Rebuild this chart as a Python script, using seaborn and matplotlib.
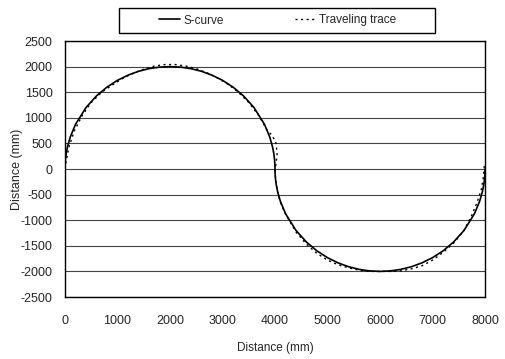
import matplotlib
matplotlib.use("Agg")
import matplotlib.pyplot as plt
from matplotlib.patches import Rectangle
import seaborn as sns
import pandas as pd

# S-curve
s_x = [0, 2, 10, 25, 50, 100, 200, 400, 600, 800, 1000, 1200, 1400, 1600, 1800, 2000,
       2200, 2400, 2600, 2800, 3000, 3200, 3400, 3600, 3800, 3900, 3950, 3975, 3990, 3998, 4000,
       4002, 4010, 4025, 4050, 4100, 4200, 4400, 4600, 4800, 5000, 5200, 5400, 5600, 5800, 6000,
       6200, 6400, 6600, 6800, 7000, 7200, 7400, 7600, 7800, 7900, 7950, 7975, 7990, 7998, 8000]
s_y = [0, 89, 200, 315, 444, 624, 872, 1200, 1428, 1600, 1732, 1833, 1908, 1960, 1990, 2000,
       1990, 1960, 1908, 1833, 1732, 1600, 1428, 1200, 872, 624, 444, 315, 200, 89, 0,
       -89, -200, -315, -444, -624, -872, -1200, -1428, -1600, -1732, -1833, -1908, -1960, -1990, -2000,
       -1990, -1960, -1908, -1833, -1732, -1600, -1428, -1200, -872, -624, -444, -315, -200, -89, 0]

# Traveling trace
t_x = [0, 30, 80, 180, 330, 500, 700, 900, 1100, 1300, 1500, 1700, 1900, 2100,
       2300, 2500, 2700, 2900, 3100, 3300, 3500, 3700, 3850, 3950, 4020, 4040,
       4020, 4000, 4010, 4050, 4100, 4200, 4400, 4600, 4800, 5000, 5200, 5400,
       5600, 5800, 6000, 6200, 6400, 6600, 6800, 7000, 7200, 7400, 7600, 7750,
       7850, 7930, 7970, 7990]
t_y = [0, 200, 450, 750, 1050, 1300, 1500, 1640, 1770, 1870, 1950, 2010, 2040, 2040,
       2010, 1960, 1880, 1780, 1660, 1500, 1300, 1030, 760, 650, 500, 300,
       100, 0, -200, -450, -650, -880, -1230, -1470, -1650, -1780, -1870, -1930,
       -1975, -2000, -2000, -2000, -1990, -1950, -1890, -1780, -1630, -1450, -1200, -900,
       -650, -400, -150, 100]

x_ticks = [0, 1000, 2000, 3000, 4000, 5000, 6000, 7000, 8000]
y_ticks = [-2500, -2000, -1500, -1000, -500, 0, 500, 1000, 1500, 2000, 2500]

sns.set_style("white")
plt.rcParams['font.family'] = ['Liberation Sans', 'DejaVu Sans']

W, H = 506, 359
fig = plt.figure(figsize=(W / 100, H / 100), dpi=100)
ax = fig.add_axes([65 / W, 1 - 297 / H, 420 / W, 256 / H])

df_s = pd.DataFrame({"x": s_x, "y": s_y})
df_t = pd.DataFrame({"x": t_x, "y": t_y})
sns.lineplot(data=df_s, x="x", y="y", sort=False, estimator=None, ax=ax,
             color="black", linewidth=1.2, label="S-curve")
sns.lineplot(data=df_t, x="x", y="y", sort=False, estimator=None, ax=ax,
             color="black", linewidth=1.0, linestyle=(0, (1.5, 2.5)), label="Traveling trace")

ax.set_xlim(0, 8000)
ax.set_ylim(-2500, 2500)
ax.set_xticks(x_ticks)
ax.set_yticks(y_ticks)
ax.set_xticklabels([str(v) for v in x_ticks], fontsize=9)
ax.set_yticklabels([str(v) for v in y_ticks], fontsize=9)
ax.yaxis.grid(True, color="#444444", linewidth=0.8)
ax.xaxis.grid(False)
for s in ax.spines.values():
    s.set_color("black")
    s.set_linewidth(1.0)
ax.tick_params(axis="x", direction="in", length=3, color="black", pad=13)
ax.tick_params(axis="y", length=0, pad=9)
ax.set_xlabel("Distance (mm)", fontsize=8.5, labelpad=11)
ax.set_ylabel("Distance (mm)", fontsize=9)
ax.yaxis.set_label_coords(-42 / 420, 0.5)

leg = ax.legend(loc="center", bbox_to_anchor=(277.5 / W, 1 - 20.5 / H),
                bbox_transform=fig.transFigure, ncol=2,
                frameon=False, fontsize=8.5, borderpad=0.2,
                columnspacing=6.0, handlelength=1.8, handletextpad=0.3)
fig.patches.append(Rectangle((119 / W, 1 - 33 / H), 316 / W, 25 / H,
                             transform=fig.transFigure, fill=False,
                             edgecolor="black", linewidth=1.0))

fig.savefig("out.png", dpi=100)
